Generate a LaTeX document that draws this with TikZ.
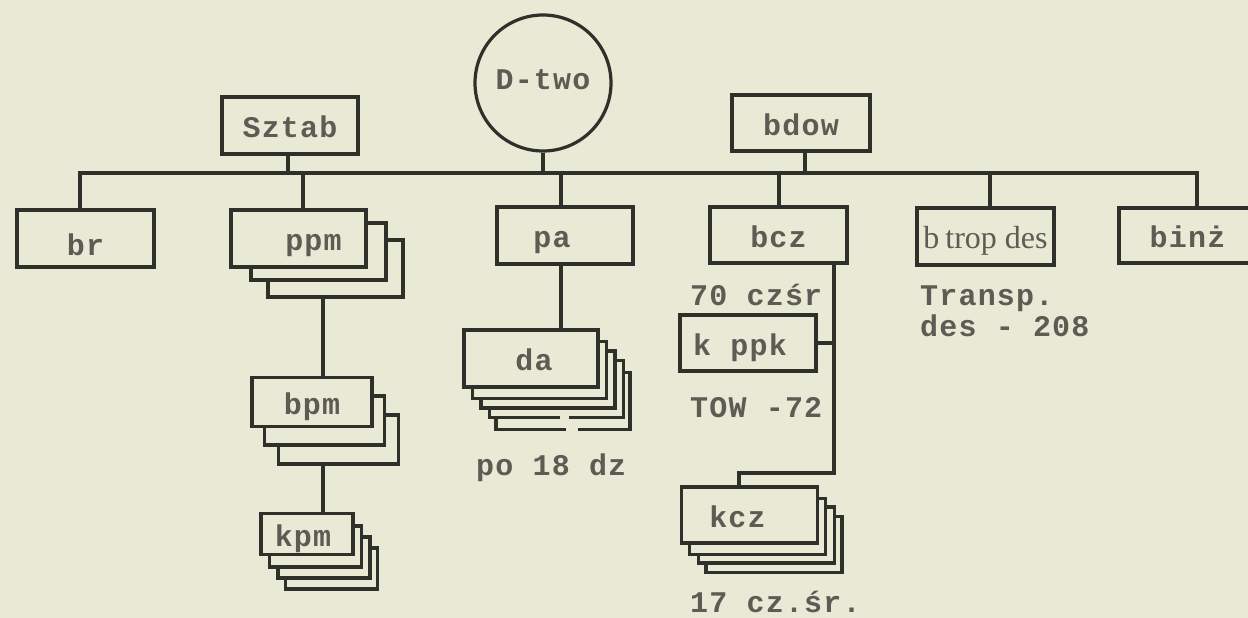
\documentclass[tikz,border=0pt]{standalone}
\usepackage{fontspec}
\usetikzlibrary{calc}
\newfontfamily\tw{Liberation Mono}[LetterSpace=4]
\newfontfamily\nar{Liberation Serif}
\definecolor{paper}{RGB}{232,234,214}
\definecolor{ink}{RGB}{48,48,42}
\definecolor{typeink}{RGB}{92,92,84}
\begin{document}
\begin{tikzpicture}[x=1pt,y=-1pt,
  ln/.style={draw=ink, line width=3.2pt, line join=miter},
  box/.style={rectangle, draw=ink, fill=paper, line width=3.2pt, inner sep=0pt, outer sep=0pt,
    text height=24pt, text depth=0pt, font=\tw\bfseries\fontsize{30}{30}\selectfont, text=typeink},
  wide/.style={box, minimum width=137pt, minimum height=57pt},
  circ/.style={circle, draw=ink, fill=paper, line width=3.2pt, inner sep=0pt, minimum size=136pt,
    text height=12pt, text depth=0pt, font=\tw\bfseries\fontsize{30}{30}\selectfont, text=typeink},
  txt/.style={inner sep=0pt, font=\tw\bfseries\fontsize{30}{30}\selectfont, text=typeink},
  gap/.style={draw=paper, line width=4.5pt},
]
\useasboundingbox (0,0) rectangle (1248,618);
\fill[paper] (0,0) rectangle (1248,618);
\clip (0,0) rectangle (1248,618);

% junctions
\coordinate (jbr) at (80,173);
\coordinate (jsz) at (288,173);
\coordinate (jppm) at (303,173);
\coordinate (jd) at (543,173);
\coordinate (jpa) at (561,173);
\coordinate (jbcz) at (779,173);
\coordinate (jbd) at (805,173);
\coordinate (jbt) at (990,173);
\coordinate (jbinz) at (1197,173);
\coordinate (cpm) at (323,0);
\coordinate (cz) at (834,0);
\coordinate (kk) at (739,473);

% top level
\node[circ] (dtwo) at (543,83) {D-two};
\node[wide, minimum width=136pt] (sztab) at (290,125.5) {Sztab};
\node[wide, minimum width=138pt, minimum height=56pt] (bdow) at (801,123) {bdow};

% second level
\node[wide] (br) at (85.5,238.5) {\raisebox{-5pt}{br}};
\node[box, minimum width=135pt, minimum height=57pt] (ppm3) at (335.5,268.5) {};
\node[box, minimum width=135pt, minimum height=57pt] (ppm2) at (318.5,251.5) {};
\node[box, minimum width=135pt, minimum height=57pt] (ppm) at (298.5,238.5) {\hspace*{30pt}ppm};
\node[wide, minimum width=136pt] (pa) at (565,235.5) {pa\hspace*{26pt}};
\node[wide, minimum height=56pt] (bcz) at (778.5,235) {bcz};
\node[wide] (btrop) at (985.5,236.5) {\nar\mdseries\fontsize{32}{32}\selectfont b\kern6pt trop des};
\node[wide, minimum height=55pt] (binz) at (1187.5,235.5) {binż};

% ppm chain
\node[box, minimum width=120pt, minimum height=49pt] (bpm3) at (338.5,439.5) {};
\node[box, minimum width=120pt, minimum height=49pt] (bpm2) at (324.5,420.5) {};
\node[box, minimum width=120pt, minimum height=49pt] (bpm) at (312,402) {bpm};
\node[box, minimum width=92pt, minimum height=41pt] (kpm4) at (331.5,568.5) {};
\node[box, minimum width=92pt, minimum height=41pt] (kpm3) at (324,557.5) {};
\node[box, minimum width=92pt, minimum height=41pt] (kpm2) at (315.5,546.5) {};
\node[box, minimum width=92pt, minimum height=41pt] (kpm) at (307,534) {kpm\hspace*{8pt}};

% da stack
\node[box, minimum width=134pt, minimum height=57pt] (da5) at (563,401) {};
\node[box, minimum width=134pt, minimum height=57pt] (da4) at (556.5,389) {};
\node[box, minimum width=134pt, minimum height=57pt] (da3) at (548,379.5) {};
\node[box, minimum width=134pt, minimum height=57pt] (da2) at (539.5,370) {};
\node[box, minimum width=134pt, minimum height=57pt] (da) at (531,358.5) {\hspace*{6pt}da};
\draw[gap] ([xshift=-1pt]da4.south -| jpa) -- ([xshift=8pt]da4.south -| jpa);
\draw[gap] ([xshift=5pt]da5.south -| jpa) -- ([xshift=17pt]da5.south -| jpa);

% bcz chain
\node[box, minimum width=136pt, minimum height=56pt] (kppk) at (748,343) {k ppk\hspace*{16pt}};
\node[box, minimum width=136pt, minimum height=56pt] (kcz4) at (774,544.5) {};
\node[box, minimum width=136pt, minimum height=56pt] (kcz3) at (766.5,535) {};
\node[box, minimum width=136pt, minimum height=56pt] (kcz2) at (757.5,526.5) {};
\node[box, minimum width=136pt, minimum height=56pt] (kcz) at (749.5,515) {kcz\hspace*{24pt}};

% free texts
\node[txt, anchor=base west] (t70) at (690,305) {70 czśr};
\node[txt, anchor=base west] (ttow) at (690,417) {TOW -72};
\node[txt, anchor=base west] (t17) at (690,612) {17 cz.śr.};
\node[txt, anchor=base west] (tpo) at (476,475) {po 18 dz};
\node[txt, anchor=base west] (ttr1) at (920,305) {Transp.};
\node[txt, anchor=base west] (ttr2) at (920,336) {des - 208};

% connectors
\draw[ln] (br.north -| jbr) -- (jbr) -- (jbinz) -- (binz.north -| jbinz);
\draw[ln] (sztab.south -| jsz) -- (jsz);
\draw[ln] (dtwo.south) -- (jd);
\draw[ln] (bdow.south -| jbd) -- (jbd);
\draw[ln] (jppm) -- (ppm.north -| jppm);
\draw[ln] (jpa) -- (pa.north -| jpa);
\draw[ln] (jbcz) -- (bcz.north -| jbcz);
\draw[ln] (jbt) -- (btrop.north -| jbt);
\draw[ln] (pa.south -| jpa) -- (da.north -| jpa);
\draw[ln] (ppm3.south -| cpm) -- (bpm.north -| cpm);
\draw[ln] (bpm3.south -| cpm) -- (kpm.north -| cpm);
\draw[ln] (bcz.south -| cz) |- (kk) -- (kcz.north -| kk);
\draw[ln] (kppk.east) -- (kppk.east -| cz);
\end{tikzpicture}
\end{document}
